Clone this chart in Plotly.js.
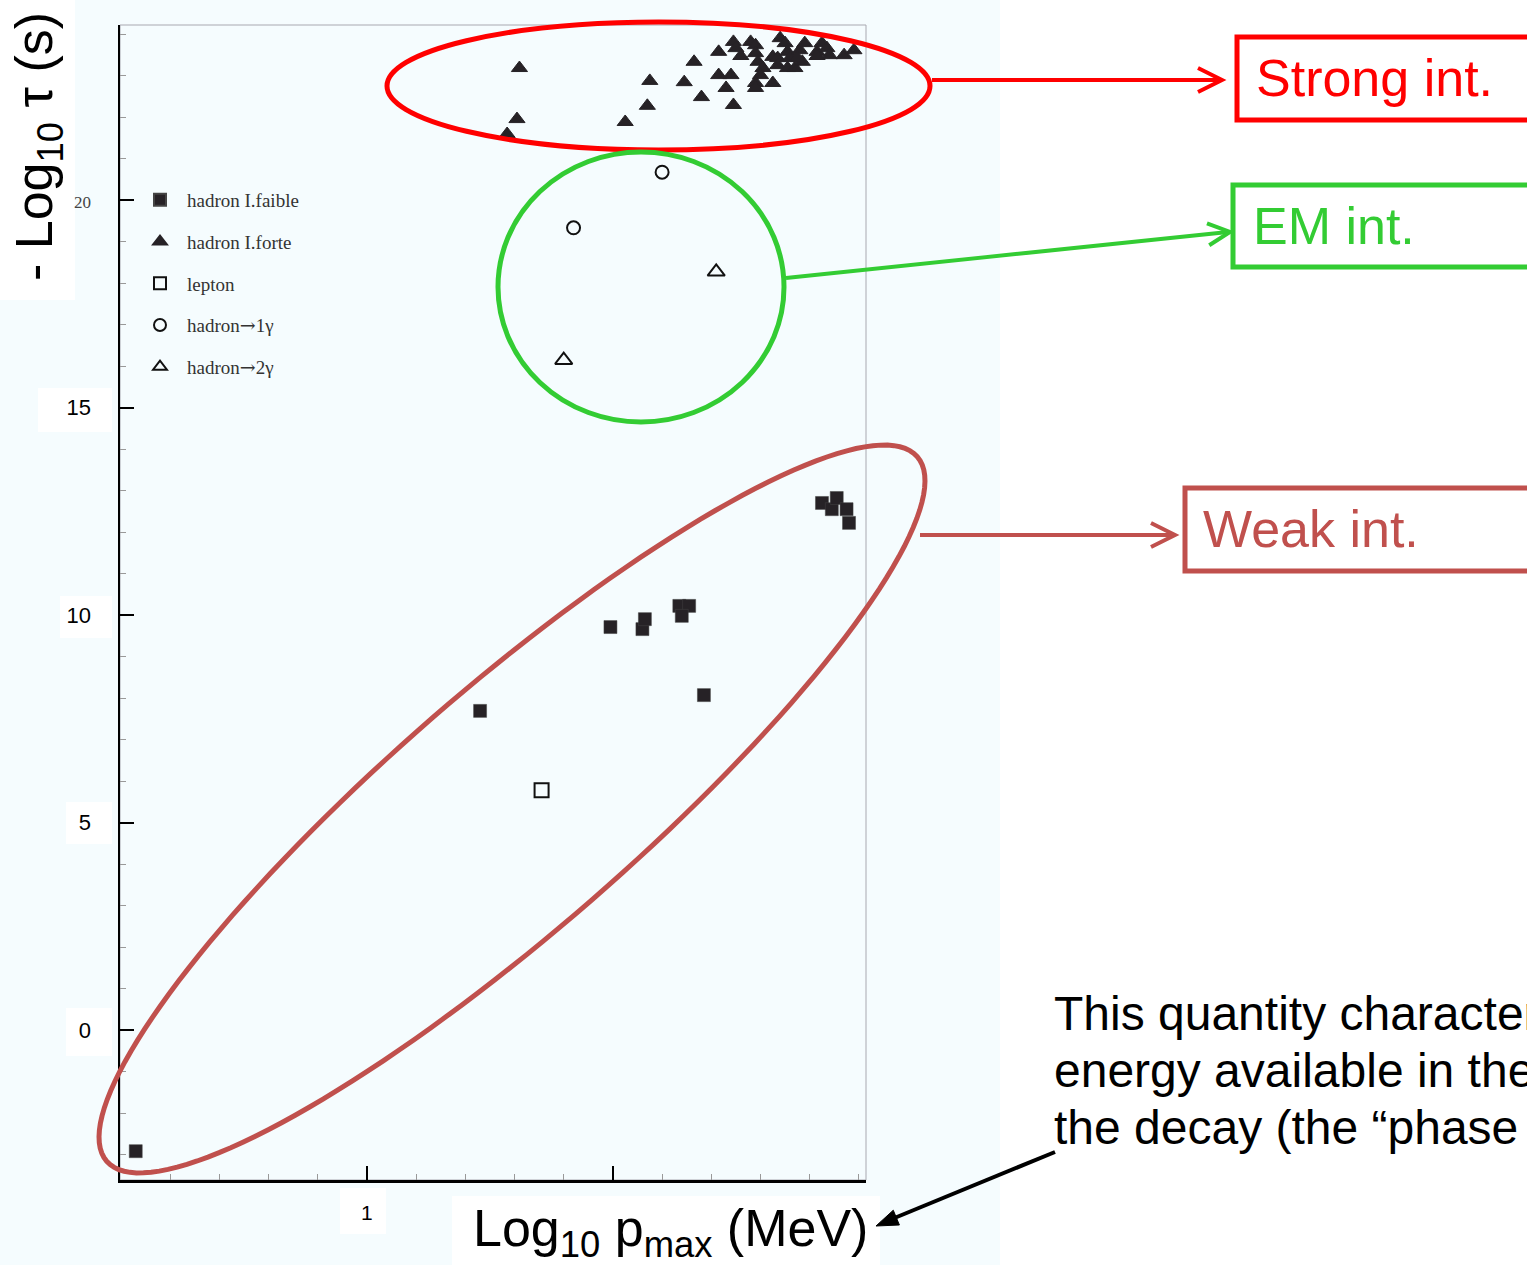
<!DOCTYPE html>
<html><head><meta charset="utf-8">
<script src="https://cdn.plot.ly/plotly-3.0.1.min.js"></script>
<style>html,body{margin:0;padding:0;background:#fff;overflow:hidden}#chart{width:1527px;height:1265px}</style>
</head><body><div id="chart"></div>
<script>
// ---- data ----
const weakX = [0.06,1.46,1.99,2.12,2.13,2.27,2.31,2.28,2.37,2.85,2.89,2.91,2.95,2.96];
const weakY = [-2.92,7.69,9.71,9.66,9.90,10.22,10.22,9.98,8.07,12.70,12.55,12.82,12.55,12.22];
const strongX = [1.62,1.61,1.57,2.05,2.14,2.15,2.29,2.33,2.36,2.43,2.43,2.48,2.46,2.49,2.49,2.50,2.52,2.56,2.58,2.58,2.59,2.61,2.60,2.58,2.58,2.65,2.68,2.70,2.65,2.67,2.67,2.71,2.72,2.71,2.74,2.76,2.78,2.77,2.75,2.83,2.85,2.87,2.88,2.83,2.94,2.98];
const strongY = [23.18,21.95,21.59,21.88,22.27,22.87,22.84,23.33,22.48,23.57,23.01,23.01,22.70,22.29,23.81,23.66,23.47,23.81,23.73,23.54,23.33,23.18,23.01,22.82,22.70,22.82,23.90,23.78,23.45,23.42,23.25,23.57,23.42,23.18,23.18,23.61,23.78,23.33,23.42,23.57,23.78,23.66,23.49,23.47,23.49,23.61];
const leptonX = [1.71];
const leptonY = [5.78];
const gamma1X = [2.20,1.84];
const gamma1Y = [20.67,19.33];
const gamma2X = [2.42,1.80];
const gamma2Y = [18.27,16.14];
const ARROW = '<span style="font-family:DejaVu Serif">\u2192</span>';
const seriesNames = ['hadron I.faible','hadron I.forte','lepton','hadron'+ARROW+'1\u03b3','hadron'+ARROW+'2\u03b3'];
const yTickVals = [0,5,10,15,20];
const yTickText = ['0','5','10','15','<span style="font-family:Liberation Serif;font-size:17px;color:#444">20</span>'];
const xTickVals = [1,2];
const xTickText = ['1',''];
const boxLabels = ['Strong int.','EM int.','Weak int.'];
const noteLines = ['This quantity characterizes the','energy available in the','the decay (the \u201cphase space\u201d)'];

// ---- geometry helpers (pixel -> paper) ----
const L=120, R=866, T=25, B=1180, W=R-L, H=B-T;
const px = x => (x-L)/W;
const py = y => (B-y)/H;
const RED='#ff0000', GREEN='#33cc33', WEAK='#c0504d';

function rectPx(x0,y0,x1,y1,o){return Object.assign({type:'rect',xref:'paper',yref:'paper',x0:px(x0),x1:px(x1),y0:py(y1),y1:py(y0)},o);}
function ellPx(x0,y0,x1,y1,o){return Object.assign({type:'circle',xref:'paper',yref:'paper',x0:px(x0),x1:px(x1),y0:py(y1),y1:py(y0)},o);}
function linePx(x0,y0,x1,y1,o){return Object.assign({type:'line',xref:'paper',yref:'paper',x0:px(x0),x1:px(x1),y0:py(y0),y1:py(y1)},o);}
function pathPx(pts,close,o){
  let s = pts.map((p,i)=>(i?'L':'M')+px(p[0]).toFixed(5)+','+py(p[1]).toFixed(5)).join(' ');
  if(close) s+=' Z';
  return Object.assign({type:'path',xref:'paper',yref:'paper',path:s},o);
}
function rotEllipse(cx,cy,a,b,deg){
  const th=deg*Math.PI/180, pts=[];
  const u=[Math.cos(th),-Math.sin(th)], v=[Math.sin(th),Math.cos(th)];
  for(let i=0;i<=160;i++){const t=2*Math.PI*i/160, ex=a*Math.cos(t), ey=b*Math.sin(t);
    pts.push([cx+ex*u[0]+ey*v[0], cy+ex*u[1]+ey*v[1]]);}
  return pts;
}
function chevron(tx,ty,dx,dy,back,spread){
  const n=Math.hypot(dx,dy), ux=dx/n, uy=dy/n, vx=-uy, vy=ux;
  return [[tx-ux*back+vx*spread, ty-uy*back+vy*spread],[tx,ty],[tx-ux*back-vx*spread, ty-uy*back-vy*spread]];
}

const shapes = [
  // scan background
  rectPx(0,0,1000,1265,{layer:'below',fillcolor:'#f5fcfe',line:{width:0}}),
  // white label patches
  rectPx(0,0,75,300,{layer:'below',fillcolor:'#ffffff',line:{width:0}}),
  rectPx(38,388,112,432,{layer:'below',fillcolor:'#ffffff',line:{width:0}}),
  rectPx(60,596,112,638,{layer:'below',fillcolor:'#ffffff',line:{width:0}}),
  rectPx(66,802,112,844,{layer:'below',fillcolor:'#ffffff',line:{width:0}}),
  rectPx(66,1008,112,1056,{layer:'below',fillcolor:'#ffffff',line:{width:0}}),
  rectPx(340,1188,386,1234,{layer:'below',fillcolor:'#ffffff',line:{width:0}}),
  rectPx(452,1196,880,1265,{layer:'below',fillcolor:'#ffffff',line:{width:0}}),
  // thin frame (top/right)
  rectPx(L,T,R,B,{layer:'below',line:{color:'#a8a8b0',width:1},fillcolor:'rgba(0,0,0,0)'}),
  // ellipses
  ellPx(387,22,930,150,{line:{color:RED,width:5}}),
  ellPx(498,152,784,422,{line:{color:GREEN,width:5}}),
  pathPx(rotEllipse(512,809,537,121,41),true,{line:{color:WEAK,width:5}}),
  // arrows
  linePx(932,80,1220,80,{line:{color:RED,width:4}}),
  pathPx(chevron(1222,80,1,0,24,12),false,{line:{color:RED,width:4}}),
  linePx(786,278,1228,232,{line:{color:GREEN,width:4}}),
  pathPx(chevron(1230,232,444,-46,22,11),false,{line:{color:GREEN,width:4}}),
  linePx(920,535,1173,535,{line:{color:WEAK,width:4}}),
  pathPx(chevron(1175,535,1,0,24,12),false,{line:{color:WEAK,width:4}}),
  linePx(1055,1152,892,1219,{line:{color:'#000',width:4}}),
  pathPx((function(){const tx=876,ty=1226,dx=-179,dy=74,n=Math.hypot(dx,dy),ux=dx/n,uy=dy/n,vx=-uy,vy=ux;
    return [[tx,ty],[tx-ux*22+vx*8,ty-uy*22+vy*8],[tx-ux*22-vx*8,ty-uy*22-vy*8]];})(),true,{line:{color:'#000',width:1},fillcolor:'#000'}),
  // boxes
  rectPx(1237,37,1540,120,{line:{color:RED,width:5},fillcolor:'rgba(0,0,0,0)'}),
  rectPx(1233,185,1540,267,{line:{color:GREEN,width:5},fillcolor:'rgba(0,0,0,0)'}),
  rectPx(1185,488,1540,571,{line:{color:WEAK,width:5},fillcolor:'rgba(0,0,0,0)'})
];

const SANS='Liberation Sans, Arial, sans-serif';
const annotations = [
  {xref:'paper',yref:'paper',x:px(38),y:py(147),text:'- Log<sub>10</sub> \u03c4 (s)',textangle:-90,showarrow:false,
   font:{family:SANS,size:52,color:'#000'},xanchor:'center',yanchor:'middle'},
  {xref:'paper',yref:'paper',x:px(670),y:py(1232),text:'Log<sub>10</sub> p<sub>max</sub> (MeV)',showarrow:false,
   font:{family:SANS,size:52,color:'#000'},xanchor:'center',yanchor:'middle'},
  {xref:'paper',yref:'paper',x:px(1254),y:py(78),text:boxLabels[0],showarrow:false,font:{family:SANS,size:52,color:RED},xanchor:'left',yanchor:'middle'},
  {xref:'paper',yref:'paper',x:px(1251),y:py(226),text:boxLabels[1],showarrow:false,font:{family:SANS,size:52,color:GREEN},xanchor:'left',yanchor:'middle'},
  {xref:'paper',yref:'paper',x:px(1201),y:py(529),text:boxLabels[2],showarrow:false,font:{family:SANS,size:52,color:WEAK},xanchor:'left',yanchor:'middle'},
  {xref:'paper',yref:'paper',x:px(1052),y:py(1013),text:noteLines[0],showarrow:false,font:{family:SANS,size:48,color:'#000'},xanchor:'left',yanchor:'middle'},
  {xref:'paper',yref:'paper',x:px(1052),y:py(1070),text:noteLines[1],showarrow:false,font:{family:SANS,size:48,color:'#000'},xanchor:'left',yanchor:'middle'},
  {xref:'paper',yref:'paper',x:px(1052),y:py(1127),text:noteLines[2],showarrow:false,font:{family:SANS,size:48,color:'#000'},xanchor:'left',yanchor:'middle'}
];

const DARK='#262226';
const traces = [
  {x:weakX,y:weakY,name:seriesNames[0],legendgroup:'g1',mode:'markers',type:'scatter',
   marker:{symbol:'square',size:13,color:DARK,line:{color:'#444',width:0.5}}},
  {x:strongX,y:strongY,name:seriesNames[1],legendgroup:'g2',mode:'markers',type:'scatter',
   marker:{symbol:'triangle-up',size:14,color:DARK,line:{color:DARK,width:1}}},
  {x:leptonX,y:leptonY,name:seriesNames[2],legendgroup:'g3',mode:'markers',type:'scatter',
   marker:{symbol:'square-open',size:14,color:'#111',line:{width:2}}},
  {x:gamma1X,y:gamma1Y,name:seriesNames[3],legendgroup:'g4',mode:'markers',type:'scatter',
   marker:{symbol:'circle-open',size:13,color:'#111',line:{width:2}}},
  {x:gamma2X,y:gamma2Y,name:seriesNames[4],legendgroup:'g5',mode:'markers',type:'scatter',
   marker:{symbol:'triangle-up-open',size:15,color:'#111',line:{width:2}}}
];

const layout = {
  width:1527,height:1265,
  margin:{l:L,r:1527-R,t:T,b:1265-B,pad:0},
  paper_bgcolor:'#ffffff',plot_bgcolor:'rgba(0,0,0,0)',
  showlegend:true,
  legend:{x:px(133),y:py(181),xanchor:'left',yanchor:'top',bgcolor:'rgba(0,0,0,0)',
    font:{family:'Liberation Serif, Times New Roman, serif',size:19,color:'#333'},
    traceorder:'grouped',tracegroupgap:14,itemsizing:'constant',itemwidth:44},
  xaxis:{range:[-0.004,3.029],showgrid:false,zeroline:false,showline:true,linecolor:'#000',linewidth:2.5,
    tickmode:'array',tickvals:xTickVals,ticktext:xTickText,ticks:'inside',ticklen:14,tickwidth:2,tickcolor:'#000',
    ticklabelstandoff:12,tickfont:{family:SANS,size:21,color:'#000'},
    minor:{tickmode:'linear',tick0:0,dtick:0.2,ticks:'inside',ticklen:6,tickcolor:'#999',tickwidth:1,showgrid:false}},
  yaxis:{range:[-3.614,24.217],showgrid:false,zeroline:false,showline:true,linecolor:'#000',linewidth:2.5,
    tickmode:'array',tickvals:yTickVals,ticktext:yTickText,ticks:'inside',ticklen:14,tickwidth:2,tickcolor:'#000',
    ticklabelstandoff:22,tickfont:{family:SANS,size:22,color:'#000'},
    minor:{tickmode:'linear',tick0:0,dtick:1,ticks:'inside',ticklen:6,tickcolor:'#999',tickwidth:1,showgrid:false}},
  shapes:shapes,
  annotations:annotations
};

Plotly.newPlot('chart',traces,layout,{displayModeBar:false,staticPlot:true});
</script></body></html>
